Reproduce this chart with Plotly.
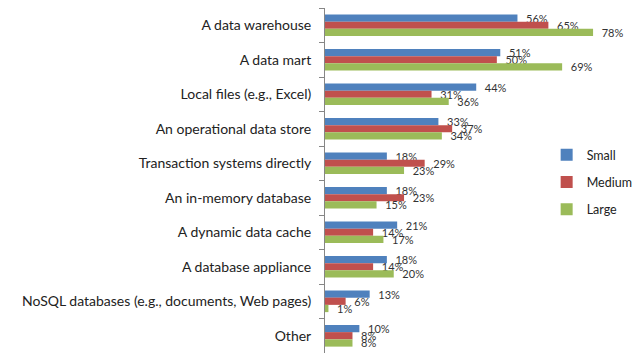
import plotly.graph_objects as go

categories = [
    "A data warehouse",
    "A data mart",
    "Local files (e.g., Excel)",
    "An operational data store",
    "Transaction systems directly",
    "An in-memory database",
    "A dynamic data cache",
    "A database appliance",
    "NoSQL databases (e.g., documents, Web pages)",
    "Other",
]
small = [56, 51, 44, 33, 18, 18, 21, 18, 13, 10]
medium = [65, 50, 31, 37, 29, 23, 14, 14, 6, 8]
large = [78, 69, 36, 34, 23, 15, 17, 20, 1, 8]

series = [("Small", small, "#4F81BD"), ("Medium", medium, "#C0504D"), ("Large", large, "#9BBB59")]

fig = go.Figure()
for name, vals, color in series:
    fig.add_trace(go.Bar(
        y=categories, x=vals, name=name, orientation="h",
        marker=dict(color=color, line=dict(width=0)),
        text=["\u00a0\u00a0" + f"{v}%" for v in vals],
        textposition="outside", constraintext="none", cliponaxis=False,
        textfont=dict(family="Lato, Open Sans, sans-serif", size=11, color="#333333"),
        legendgroup=name,
    ))

fig.update_layout(
    width=633, height=355,
    margin=dict(l=317, r=6, t=0, b=10),
    barmode="group", bargap=0.37, bargroupgap=0,
    paper_bgcolor="white", plot_bgcolor="white",
    font=dict(family="Lato, Open Sans, sans-serif", size=14, color="#222222"),
    xaxis=dict(range=[0, 90.2], showticklabels=False, showgrid=False, zeroline=False, showline=False),
    yaxis=dict(autorange="reversed", showline=True, linecolor="#868686", linewidth=1,
               ticks="outside", tickson="boundaries", ticklen=5, tickcolor="#868686",
               showgrid=False, ticklabelstandoff=10, tickfont=dict(size=14)),
    legend=dict(x=0.715, xanchor="left", y=0.495, yanchor="middle", traceorder="grouped",
                tracegroupgap=8, font=dict(size=12.5), bgcolor="rgba(0,0,0,0)",
                borderwidth=0),
    showlegend=True,
)

fig.write_html("out.html")
